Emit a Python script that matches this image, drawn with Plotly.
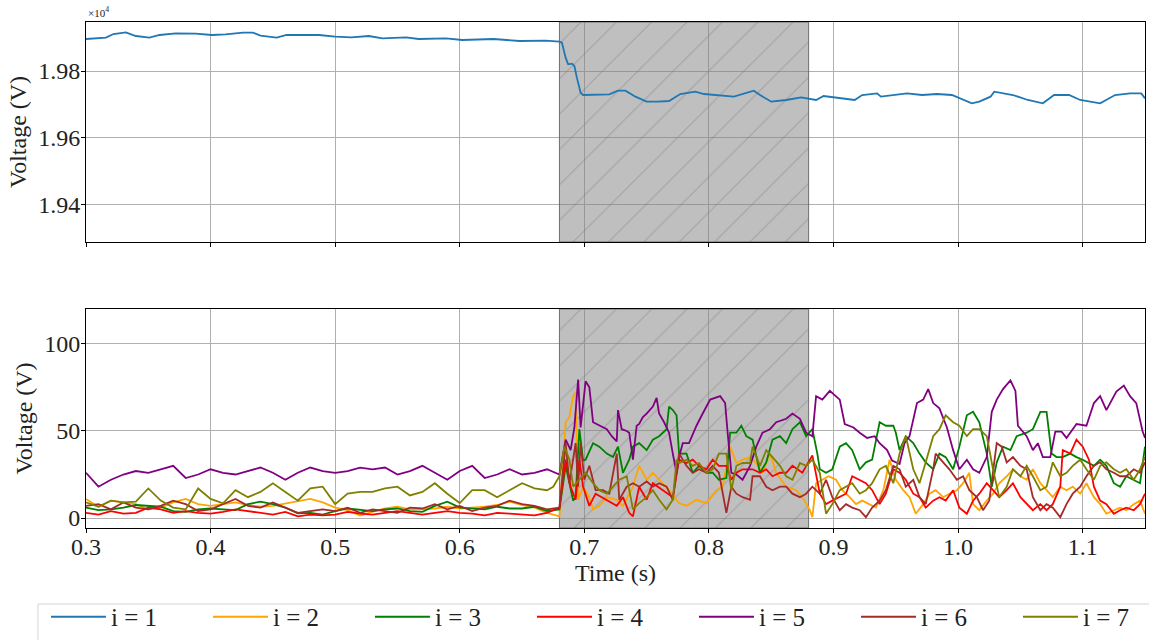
import numpy as np
import plotly.graph_objects as go

# ---------------- data ----------------
FAULT_START, FAULT_END = 0.68, 0.88
X_RANGE = [0.3, 1.15]
TOP_RANGE = [19287, 19947]
BOT_RANGE = [-5.7, 120]

# i = 1 (top panel)
t1 = [0.300, 0.316, 0.322, 0.332, 0.340, 0.351, 0.359, 0.372, 0.388, 0.401, 0.412, 0.426, 0.434, 0.440,
      0.453, 0.461, 0.487, 0.500, 0.513, 0.527, 0.538, 0.557, 0.567, 0.589, 0.602, 0.627, 0.648, 0.669,
      0.680, 0.682, 0.685, 0.687, 0.690, 0.692, 0.694, 0.697, 0.699, 0.710, 0.720, 0.727, 0.733, 0.741,
      0.750, 0.759, 0.768, 0.777, 0.789, 0.796, 0.808, 0.820, 0.836, 0.841, 0.850, 0.862, 0.874, 0.886,
      0.892, 0.905, 0.917, 0.923, 0.935, 0.938, 0.947, 0.959, 0.971, 0.983, 0.995, 1.002, 1.011, 1.017,
      1.026, 1.029, 1.044, 1.056, 1.068, 1.077, 1.089, 1.098, 1.114, 1.126, 1.138, 1.147, 1.150]
v1 = [19896, 19900, 19911, 19916, 19905, 19900, 19908, 19913, 19912, 19908, 19910, 19915, 19915, 19906,
      19900, 19908, 19908, 19903, 19901, 19905, 19898, 19901, 19896, 19898, 19893, 19896, 19890, 19891,
      19888, 19885, 19840, 19820, 19822, 19815, 19780, 19735, 19728, 19728, 19730, 19741, 19741, 19723,
      19708, 19708, 19710, 19731, 19738, 19731, 19728, 19723, 19741, 19728, 19708, 19713, 19721, 19713,
      19725, 19718, 19713, 19728, 19733, 19723, 19728, 19733, 19728, 19731, 19728, 19718, 19703, 19708,
      19723, 19738, 19728, 19713, 19703, 19728, 19728, 19713, 19703, 19728, 19733, 19733, 19718]

# common pre-fault time grid for i = 2..7
t_pre = [0.30, 0.31, 0.32, 0.33, 0.34, 0.35, 0.36, 0.37, 0.38, 0.39, 0.40, 0.41, 0.42, 0.43, 0.44, 0.45,
         0.46, 0.47, 0.48, 0.49, 0.50, 0.51, 0.52, 0.53, 0.54, 0.55, 0.56, 0.57, 0.58, 0.59, 0.60, 0.61,
         0.62, 0.63, 0.64, 0.65, 0.66, 0.67]

v2_pre = [11, 6.5, 10, 9, 8, 5, 6, 9, 11, 8, 7, 8, 9, 7.5, 6.5, 7, 8.4, 10, 11, 9, 6, 4.6, 1.5, 3.6, 5.5,
          6.5, 5, 5, 5.5, 6.5, 5.5, 6, 6.5, 7.5, 9.4, 7.5, 6, 3]
v3_pre = [6, 4.6, 5, 6, 7.5, 7, 6.5, 4, 3.6, 5, 5.5, 5, 4.6, 8, 9.4, 8, 6, 2.7, 3, 2, 4, 5.5, 4.6, 4, 5,
          5.5, 4, 3.6, 7, 9.4, 6, 5.5, 5, 6.5, 5.5, 5.5, 6.5, 4]
v4_pre = [3, 2, 4, 2.5, 3, 6, 5, 3, 4, 3, 2.5, 3.5, 5, 4, 3, 2, 3.5, 1, 2, 1.5, 2, 3.5, 2.5, 2, 3, 4, 3,
          2, 3, 4, 3, 2.5, 1.5, 3, 2.5, 2, 1.5, 3]
v5_pre = [26, 18, 22, 25, 27, 26, 28, 30, 23, 25, 28, 26, 25, 27, 29, 26, 22, 26, 29, 27, 26, 27, 29, 28,
          29, 25, 27, 30, 26, 22, 27, 30, 23, 25, 28, 25, 26, 28]
v6_pre = [7, 8, 5, 9, 6, 5, 7, 10, 8, 4, 5, 8, 11, 7, 6, 9, 6, 3, 4, 5, 4, 6, 3, 5, 4, 3, 6, 5.5, 8, 5,
          7, 4, 6, 7, 10, 8, 7, 5]
v7_pre = [9, 6.5, 10, 9, 9.5, 17, 10, 6, 5, 17, 11, 8.5, 16, 12, 15, 20, 15, 10, 17, 18, 8, 14, 15, 15,
          17, 18, 13, 15, 20, 14, 8.6, 16, 16, 12, 16, 20, 17, 16]

# fault and post-fault readings
t2_post = [0.680, 0.685, 0.688, 0.691, 0.693, 0.695, 0.699, 0.704, 0.707, 0.712, 0.718, 0.726, 0.731, 0.739,
           0.744, 0.750, 0.755, 0.760, 0.768, 0.776, 0.782, 0.790, 0.798, 0.806, 0.811, 0.817, 0.822, 0.827,
           0.833, 0.838, 0.843, 0.849, 0.854, 0.862, 0.870, 0.875, 0.878, 0.881, 0.883, 0.886, 0.891, 0.896,
           0.902, 0.907, 0.913, 0.918, 0.923, 0.929, 0.934, 0.940, 0.945, 0.950, 0.956, 0.961, 0.966, 0.972,
           0.977, 0.982, 0.988, 0.993, 0.999, 1.004, 1.009, 1.012, 1.017, 1.023, 1.028, 1.033, 1.039, 1.044,
           1.050, 1.055, 1.060, 1.066, 1.071, 1.076, 1.082, 1.087, 1.092, 1.098, 1.103, 1.109, 1.114, 1.119,
           1.125, 1.130, 1.135, 1.141, 1.146, 1.150]
v2_post = [1, 55, 58, 70, 72, 10.5, 18, 12, 5, 7, 12, 10.5, 7, 18, 30, 22, 26, 22, 16, 8.6, 7, 10.5, 8.6, 16,
           18, 41, 31.6, 33.5, 35, 31.6, 26, 37, 26, 18, 16, 12, 8, 4.5, 0.5, 20, 22, 24, 22, 16, 12, 8, 10,
           8, 6, 16, 33.5, 22, 16, 12, 2.5, 8, 14, 16, 12, 14, 16, 20, 26, 8, 4.5, 10, 14, 20, 24, 28, 24, 22,
           28, 20, 16, 12, 18, 16, 18, 14, 20, 12, 8, 2.5, 4.5, 6, 4.5, 8, 10, 2.5]

t3_post = [0.680, 0.685, 0.691, 0.693, 0.696, 0.699, 0.701, 0.707, 0.712, 0.718, 0.723, 0.727, 0.731, 0.736,
           0.739, 0.744, 0.750, 0.755, 0.760, 0.766, 0.768, 0.771, 0.774, 0.776, 0.782, 0.787, 0.792, 0.798,
           0.803, 0.808, 0.814, 0.817, 0.822, 0.826, 0.830, 0.835, 0.841, 0.846, 0.851, 0.857, 0.862, 0.867,
           0.873, 0.878, 0.883, 0.887, 0.889, 0.894, 0.899, 0.905, 0.910, 0.915, 0.921, 0.926, 0.931, 0.937,
           0.942, 0.948, 0.950, 0.953, 0.958, 0.964, 0.969, 0.974, 0.980, 0.985, 0.990, 0.996, 1.001, 1.007,
           1.012, 1.017, 1.023, 1.027, 1.031, 1.036, 1.042, 1.047, 1.055, 1.060, 1.066, 1.071, 1.075, 1.079,
           1.084, 1.090, 1.095, 1.100, 1.109, 1.114, 1.119, 1.125, 1.130, 1.135, 1.141, 1.146, 1.150]
v3_post = [5, 30, 10, 12, 51, 33, 33.5, 43, 41, 37, 35, 41, 26, 33.5, 41, 43, 39, 45, 47, 51, 64, 62, 59, 37,
           37, 26, 30, 26, 26, 22, 23, 49, 49, 53, 47, 45, 26, 32, 45, 47, 43, 51, 55, 47, 51, 37, 28, 26, 28,
           41, 43, 39, 28, 32, 33.5, 55, 53, 53, 49, 39, 47, 43, 37, 32, 28, 37, 35, 28, 41, 59, 61, 55, 37,
           18, 32, 41, 39, 47, 49, 51, 61, 61, 37, 35, 35, 37, 35, 33.5, 30, 33.5, 30, 20, 18, 24, 22, 20, 41]

t4_post = [0.680, 0.685, 0.689, 0.693, 0.696, 0.699, 0.704, 0.709, 0.718, 0.726, 0.731, 0.736, 0.739, 0.744,
           0.750, 0.755, 0.763, 0.771, 0.776, 0.782, 0.787, 0.792, 0.798, 0.803, 0.808, 0.814, 0.818, 0.822,
           0.827, 0.835, 0.841, 0.846, 0.851, 0.857, 0.862, 0.867, 0.875, 0.878, 0.883, 0.889, 0.894, 0.899,
           0.905, 0.910, 0.915, 0.921, 0.926, 0.931, 0.937, 0.942, 0.948, 0.953, 0.958, 0.964, 0.969, 0.974,
           0.980, 0.985, 0.990, 0.996, 1.001, 1.007, 1.012, 1.017, 1.023, 1.028, 1.033, 1.039, 1.044, 1.050,
           1.055, 1.060, 1.066, 1.071, 1.076, 1.082, 1.084, 1.090, 1.095, 1.100, 1.105, 1.109, 1.114, 1.119,
           1.125, 1.130, 1.135, 1.141, 1.146, 1.150]
v4_post = [6, 33.5, 18, 10.5, 33.5, 18, 7, 14, 10.5, 7, 12, 3, 1, 18, 10.5, 20, 16, 12, 33.5, 31.6, 33.5, 30,
           28, 33.5, 30, 30, 22, 26, 28, 28, 26, 28, 24, 26, 26, 30, 26, 30, 36, 14, 8, 10, 12, 14, 24, 22,
           20, 16, 8, 14, 28, 26, 22, 14, 12, 6, 10, 12, 10, 16, 6, 2.5, 10, 14, 20, 16, 12, 16, 20, 12, 8,
           4.5, 8, 4.5, 8, 18, 39, 37, 45, 41, 33.5, 18, 10, 8, 2.5, 4.5, 6, 4.5, 8, 14]

t5_post = [0.680, 0.685, 0.689, 0.692, 0.695, 0.697, 0.701, 0.704, 0.707, 0.712, 0.718, 0.722, 0.726, 0.727,
           0.730, 0.734, 0.736, 0.739, 0.742, 0.744, 0.747, 0.750, 0.755, 0.758, 0.760, 0.764, 0.768, 0.771,
           0.774, 0.776, 0.779, 0.784, 0.790, 0.795, 0.801, 0.809, 0.813, 0.815, 0.818, 0.822, 0.827, 0.833,
           0.838, 0.843, 0.849, 0.854, 0.862, 0.867, 0.873, 0.878, 0.883, 0.886, 0.891, 0.897, 0.902, 0.905,
           0.909, 0.916, 0.921, 0.927, 0.933, 0.937, 0.943, 0.947, 0.953, 0.957, 0.961, 0.967, 0.972, 0.976,
           0.980, 0.985, 0.991, 0.996, 1.001, 1.007, 1.012, 1.017, 1.023, 1.027, 1.031, 1.036, 1.042, 1.046,
           1.048, 1.055, 1.060, 1.064, 1.068, 1.074, 1.078, 1.083, 1.087, 1.095, 1.103, 1.109, 1.114, 1.119,
           1.127, 1.133, 1.138, 1.143, 1.148, 1.150]
v5_post = [25, 45, 39, 52, 79.5, 52, 78.5, 75, 55, 53, 51, 47, 44, 62, 51, 50, 49, 33.5, 53, 54, 58, 60, 64,
           69, 60, 55, 49, 37, 26, 35, 43, 43, 53, 60, 68, 70, 66, 49, 26, 25, 22, 30, 41, 49, 51, 55, 57, 60,
           57, 49, 47, 70, 68, 73, 70, 68, 54, 52, 49, 46, 47, 43, 39, 33, 31, 43, 47, 66, 68, 74, 66, 63, 52,
           39, 28, 33.5, 28, 26, 35, 61, 68, 74, 79, 73, 53, 47, 39, 43, 35, 35, 49.6, 49.6, 46, 54, 53, 66,
           70, 62, 72.6, 76, 70, 66, 50, 46]

t6_post = [0.680, 0.685, 0.688, 0.693, 0.695, 0.697, 0.700, 0.704, 0.709, 0.715, 0.720, 0.726, 0.728, 0.734,
           0.739, 0.744, 0.750, 0.755, 0.760, 0.766, 0.771, 0.776, 0.782, 0.787, 0.792, 0.798, 0.803, 0.808,
           0.814, 0.818, 0.822, 0.827, 0.833, 0.835, 0.841, 0.846, 0.851, 0.857, 0.862, 0.867, 0.873, 0.878,
           0.883, 0.889, 0.894, 0.899, 0.905, 0.910, 0.915, 0.921, 0.926, 0.931, 0.937, 0.942, 0.948, 0.953,
           0.958, 0.964, 0.969, 0.974, 0.980, 0.982, 0.988, 0.993, 0.999, 1.004, 1.009, 1.015, 1.020, 1.025,
           1.031, 1.035, 1.039, 1.044, 1.050, 1.055, 1.060, 1.066, 1.071, 1.076, 1.082, 1.087, 1.092, 1.098,
           1.103, 1.109, 1.114, 1.119, 1.125, 1.130, 1.135, 1.141, 1.146, 1.150]
v6_post = [6, 43, 20, 43, 18, 43, 22, 30, 16, 16, 14, 37, 10.5, 18, 20, 18, 21, 18, 20, 18, 10.5, 37, 30, 26,
           28, 26, 30, 26, 3, 18, 14, 12, 10.5, 24, 24, 18, 16, 18, 18, 14, 12, 14, 18, 14, 22, 12, 4.5, 8, 6,
           4.5, 0.5, 6, 10, 16, 30, 28, 18, 22, 12, 8, 28, 37, 32, 28, 22, 24, 16, 12, 4.5, 10, 43, 41, 32,
           35, 30, 28, 12, 4.5, 8, 6, 0.5, 8, 14, 18, 24, 30, 32, 28, 26, 24, 24, 28, 26, 32]

t7_post = [0.675, 0.680, 0.684, 0.688, 0.691, 0.696, 0.701, 0.707, 0.712, 0.718, 0.723, 0.728, 0.734, 0.739,
           0.744, 0.750, 0.755, 0.760, 0.766, 0.771, 0.774, 0.776, 0.782, 0.787, 0.792, 0.798, 0.803, 0.808,
           0.814, 0.818, 0.822, 0.827, 0.833, 0.835, 0.841, 0.846, 0.851, 0.857, 0.862, 0.867, 0.873, 0.878,
           0.883, 0.889, 0.894, 0.899, 0.905, 0.910, 0.915, 0.921, 0.926, 0.931, 0.937, 0.942, 0.948, 0.953,
           0.958, 0.964, 0.969, 0.974, 0.980, 0.985, 0.990, 0.996, 1.001, 1.007, 1.012, 1.017, 1.023, 1.028,
           1.033, 1.039, 1.044, 1.050, 1.055, 1.060, 1.066, 1.071, 1.076, 1.082, 1.087, 1.092, 1.098, 1.103,
           1.109, 1.114, 1.119, 1.125, 1.130, 1.135, 1.141, 1.146, 1.150]
v7_post = [18, 24, 41, 33.5, 18, 22, 26, 20, 16, 14, 18, 22, 24, 5, 8.6, 12, 16, 10.5, 5, 10.5, 33.5, 31.6,
           33.5, 30, 31.6, 26, 28, 37, 37, 16, 30, 31.6, 31.6, 41, 30, 39, 35, 30, 24, 22, 31.6, 30, 33.5,
           26, 2.5, 8, 16, 18, 20, 14, 16, 20, 28, 30, 20, 37, 47, 28, 20, 32, 47, 51, 59, 55, 53, 47, 51, 51,
           47, 28, 12, 18, 28, 24, 30, 24, 16, 18, 32, 24, 26, 30, 33.5, 28, 22, 30, 32, 28, 26, 28, 22, 28, 35]

names = ["i = 1", "i = 2", "i = 3", "i = 4", "i = 5", "i = 6", "i = 7"]
colors = ["#1f77b4", "#FFA500", "#008000", "#FF0000", "#800080", "#A52A2A", "#808000"]

series_low = [
    (t_pre + t2_post, v2_pre + v2_post),
    (t_pre + t3_post, v3_pre + v3_post),
    (t_pre + t4_post, v4_pre + v4_post),
    (t_pre + t5_post, v5_pre + v5_post),
    (t_pre + t6_post, v6_pre + v6_post),
    (t_pre + t7_post, v7_pre + v7_post),
]

# ---------------- figure ----------------
FONT = "Liberation Serif"
FS = 24
GRID = "#b0b0b0"

fig = go.Figure()

def hatch_bar(yaxis_range, xa, ya):
    return go.Bar(
        x=[(FAULT_START + FAULT_END) / 2], y=[yaxis_range[1] - yaxis_range[0]], base=[yaxis_range[0]],
        width=[FAULT_END - FAULT_START], xaxis=xa, yaxis=ya, showlegend=False, hoverinfo="skip",
        marker=dict(color="rgba(128,128,128,0.5)", line=dict(color="rgba(100,100,100,0.9)", width=1),
                    pattern=dict(shape="/", fgcolor="rgba(115,115,115,0.8)", size=25, solidity=0.04)),
    )

fig.add_trace(hatch_bar(TOP_RANGE, "x", "y"))
fig.add_trace(hatch_bar(BOT_RANGE, "x2", "y2"))

fig.add_trace(go.Scatter(x=t1, y=v1, mode="lines", name=names[0], line=dict(color=colors[0], width=1.8),
                         xaxis="x", yaxis="y"))
for k, (tt, vv) in enumerate(series_low, start=1):
    fig.add_trace(go.Scatter(x=tt, y=vv, mode="lines", name=names[k], line=dict(color=colors[k], width=1.8),
                             xaxis="x2", yaxis="y2"))

axis_common = dict(showline=True, linecolor="black", linewidth=1, mirror=True, showgrid=True,
                   gridcolor=GRID, gridwidth=1, ticks="outside", ticklen=4, tickcolor="black",
                   zeroline=False, tickfont=dict(family=FONT, size=FS, color="#222"))

tick_x = [0.3, 0.4, 0.5, 0.6, 0.7, 0.8, 0.9, 1.0, 1.1]
tick_x_text = ["0.3", "0.4", "0.5", "0.6", "0.7", "0.8", "0.9", "1.0", "1.1"]
top_tickvals = [19400, 19600, 19800]
top_ticktext = ["1.94", "1.96", "1.98"]

fig.update_layout(
    width=1149, height=640,
    margin=dict(l=86, r=4, t=22, b=112, autoexpand=False),
    plot_bgcolor="white", paper_bgcolor="white",
    barmode="overlay",
    font=dict(family=FONT, size=FS, color="#222"),
    xaxis=dict(axis_common, domain=[0, 1], range=X_RANGE, anchor="y", tickvals=tick_x, showticklabels=False),
    yaxis=dict(axis_common, domain=[0.5652, 1], range=TOP_RANGE, anchor="x", tickvals=top_tickvals,
               ticktext=top_ticktext, ticklabelstandoff=-4,
               title=dict(text="Voltage (V)", font=dict(family=FONT, size=FS), standoff=4)),
    xaxis2=dict(axis_common, domain=[0, 1], range=X_RANGE, anchor="y2", tickvals=tick_x, ticktext=tick_x_text,
                ticklabelstandoff=-7,
                title=dict(text="Time (s)", font=dict(family=FONT, size=FS), standoff=0)),
    yaxis2=dict(axis_common, domain=[0, 0.4328], range=BOT_RANGE, anchor="x2", tickvals=[0, 50, 100],
                ticklabelstandoff=-4,
                title=dict(text="Voltage (V)", font=dict(family=FONT, size=FS), standoff=4)),
    legend=dict(orientation="h", x=-0.0378, y=-0.1304, xanchor="left", yanchor="top",
                borderwidth=0, bgcolor="rgba(0,0,0,0)",
                font=dict(family=FONT, size=25, color="#222"), entrywidth=92, entrywidthmode="pixels",
                itemwidth=55, tracegroupgap=0),
    shapes=[dict(type="rect", xref="paper", yref="paper", x0=-0.0453, x1=1.02, y0=-0.1502, y1=-0.30,
                 line=dict(color="#d5d5d5", width=1), fillcolor="white", layer="below")],
    annotations=[dict(text="×10<sup>4</sup>", xref="paper", yref="paper", x=0, y=1, xanchor="left",
                      yanchor="bottom", showarrow=False, yshift=1, font=dict(family=FONT, size=11, color="#222"))],
)

fig.write_html("out.html", config={"displayModeBar": False},
               post_script="document.body.style.margin='0px';")
